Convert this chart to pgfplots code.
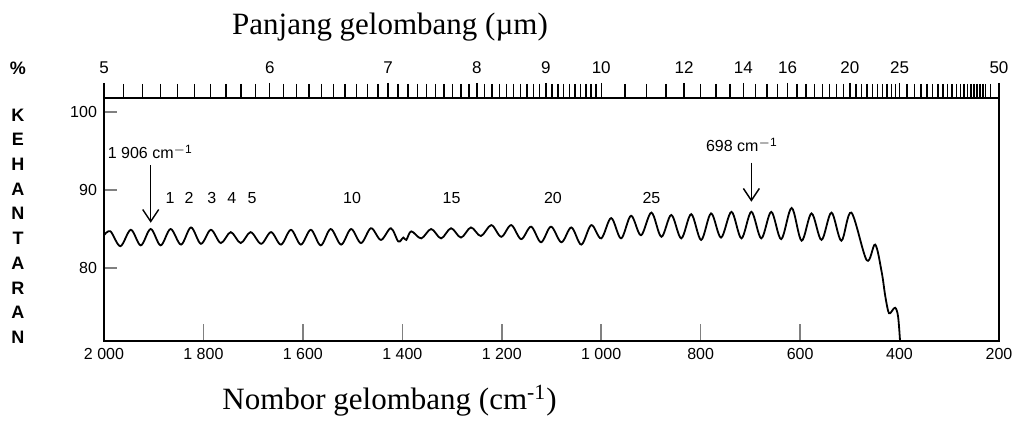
\documentclass[border=0pt]{standalone}
\usepackage{pgfplots}
\pgfplotsset{compat=1.18}
\usepackage{fontspec}
\setmainfont{Liberation Serif}
\newfontfamily\sans{Liberation Sans}
\usetikzlibrary{arrows.meta}

\newcommand{\tk}{\sans\fontsize{8}{9}\selectfont}
\newcommand{\nk}{\sans\fontsize{8}{9}\selectfont}
\newcommand{\gap}{\hspace{2.2pt}}

\begin{document}
\begin{tikzpicture}
% main axis: wavenumber at the bottom, transmittance at the left
\begin{axis}[name=main,
    width=447.5pt, height=121.5pt, scale only axis,
    x dir=reverse, xmin=200, xmax=2000,
    ymin=70.64, ymax=101.8,
    xtick={200,400,...,2000},
    xticklabels={200,400,600,800,1\gap000,1\gap200,1\gap400,1\gap600,1\gap800,2\gap000},
    ytick={80,90,100},
    xtick pos=left, ytick pos=left, tick align=inside,
    xtick style={/pgfplots/major tick length=8.5pt, line width=0.8pt},
    ytick style={/pgfplots/major tick length=6.5pt, line width=0.8pt},
    axis line style={line width=0.8pt},
    tick label style={font=\tk},
    /pgf/number format/assume math mode=true,
]
\addplot[black, line width=0.9pt, smooth, tension=0.55] coordinates {
(2000,84.2) (1987,84.7) (1967,82.8) (1946,84.9) (1926,82.9) (1906,85.0)
(1886,82.9) (1866,85.0) (1845,83.0) (1825,85.2) (1805,83.1) (1785,84.9)
(1765,83.2) (1745,84.6) (1725,83.2) (1705,84.6) (1684,83.1) (1664,84.6)
(1644,83.0) (1624,84.9) (1604,83.0) (1584,84.9) (1564,82.9) (1544,85.0)
(1523,83.0) (1503,85.0) (1483,83.2) (1463,85.1) (1443,83.6) (1423,85.1)
(1408,83.4) (1398,83.9) (1392,83.6) (1382,84.7) (1362,83.8) (1342,85.0)
(1322,83.8) (1302,85.1) (1282,83.9) (1262,85.2) (1242,84.1) (1221,85.5)
(1201,84.0) (1181,85.5) (1161,83.7) (1141,85.3) (1121,83.3) (1101,85.3)
(1080,83.3) (1060,85.2) (1040,83.0) (1020,85.5) (1000,83.8) (980,86.4)
(960,83.8) (940,86.7) (920,84.2) (899,87.1) (879,84.0) (859,86.8)
(839,83.8) (819,86.9) (799,83.6) (779,87.0) (759,83.9) (738,87.2)
(718,83.8) (698,87.2) (678,83.8) (658,87.2) (638,83.7) (617,87.7)
(597,83.5) (577,87.0) (557,83.6) (537,87.1) (517,83.5) (497,87.1)
(466,81.0) (449,83.0) (436,79.5) (429,76.5) (423,74.5) (419,74.2)
(409,74.9) (403,73.8) (399,70.64)
};
% annotations
\node[font=\tk, anchor=west, inner sep=0pt] at (axis cs:1993,94.9) {1\gap906 cm\textsuperscript{$-$1}};
\draw[line width=0.7pt, -{Straight Barb[length=6pt,width=8pt,line width=0.7pt]}]
    (axis cs:1906,93.2) -- (axis cs:1906,85.8);
\node[font=\tk] at (axis cs:717,95.8) {698 cm\textsuperscript{$-$1}};
\draw[line width=0.7pt, -{Straight Barb[length=6pt,width=8pt,line width=0.7pt]}]
    (axis cs:698,93.5) -- (axis cs:698,88.5);
\node[font=\nk, anchor=base] at (axis cs:1867,88.3) {1};
\node[font=\nk, anchor=base] at (axis cs:1829,88.3) {2};
\node[font=\nk, anchor=base] at (axis cs:1783,88.3) {3};
\node[font=\nk, anchor=base] at (axis cs:1743,88.3) {4};
\node[font=\nk, anchor=base] at (axis cs:1702,88.3) {5};
\node[font=\nk, anchor=base] at (axis cs:1501,88.3) {10};
\node[font=\nk, anchor=base] at (axis cs:1301,88.3) {15};
\node[font=\nk, anchor=base] at (axis cs:1097,88.3) {20};
\node[font=\nk, anchor=base] at (axis cs:899,88.3) {25};
\end{axis}

% top axis: wavelength in micrometres
\begin{axis}[
    width=447.5pt, height=121.5pt, scale only axis,
    x dir=reverse, xmin=200, xmax=2000, ymin=0, ymax=1,
    axis x line*=top, axis y line=none,
    x axis line style={-, line width=1pt},
    tick align=outside,
    major tick length=7.5pt, minor tick length=7pt,
    every tick/.style={line width=0.7pt, black},
    xtick={200,400,500,625,714.29,833.33,1000,1111.11,1250,1428.57,1666.67,2000},
    xticklabels={50,25,20,16,14,12,10,9,8,7,6,5},
    minor xtick={1960.78,1923.08,1886.79,1851.85,1818.18,1785.71,1754.39,1724.14,1694.92,
      1639.34,1612.90,1587.30,1562.50,1538.46,1515.15,1492.54,1470.59,1449.28,
      1408.45,1388.89,1369.86,1351.35,1333.33,1315.79,1298.70,1282.05,1265.82,
      1234.57,1219.51,1204.82,1190.48,1176.47,1162.79,1149.43,1136.36,1123.60,
      1098.90,1086.96,1075.27,1063.83,1052.63,1041.67,1030.93,1020.41,1010.10,
      952.38,909.09,869.57,800,769.23,740.74,689.66,666.67,645.16,
      606.06,588.24,571.43,555.56,540.54,526.32,512.82,
      487.80,476.19,465.12,454.55,444.44,434.78,425.53,416.67,408.16,
      384.62,370.37,357.14,344.83,333.33,322.58,312.50,303.03,294.12,285.71,
      277.78,270.27,263.16,256.41,250.00,243.90,238.10,232.56,227.27,217.39},
    xticklabel style={font=\sans\fontsize{8.5}{9}\selectfont, yshift=1pt},
]
\end{axis}

% axis titles
\node[anchor=base, font=\fontsize{15.5}{18}\selectfont]
    at ([xshift=143pt,yshift=153pt]main.south west) {Panjang gelombang (µm)};
\node[anchor=base, font=\fontsize{15.5}{18}\selectfont]
    at ([xshift=142.75pt,yshift=-34.5pt]main.south west) {Nombor gelombang (cm\textsuperscript{-1})};
\node[font=\sans\bfseries\fontsize{9}{10}\selectfont]
    at ([xshift=-43pt,yshift=136.5pt]main.south west) {\%};
\foreach \c [count=\i from 0] in {K,E,H,A,N,T,A,R,A,N}
    \node[font=\sans\bfseries\fontsize{9}{10}\selectfont]
        at ([xshift=-43pt,yshift=113pt-\i*12.35pt]main.south west) {\c};

\pgfresetboundingbox
\path ([shift={(-52pt,-40pt)}]main.south west) rectangle ([shift={(459.5pt,170.5pt)}]main.south west);
\end{tikzpicture}
\end{document}
